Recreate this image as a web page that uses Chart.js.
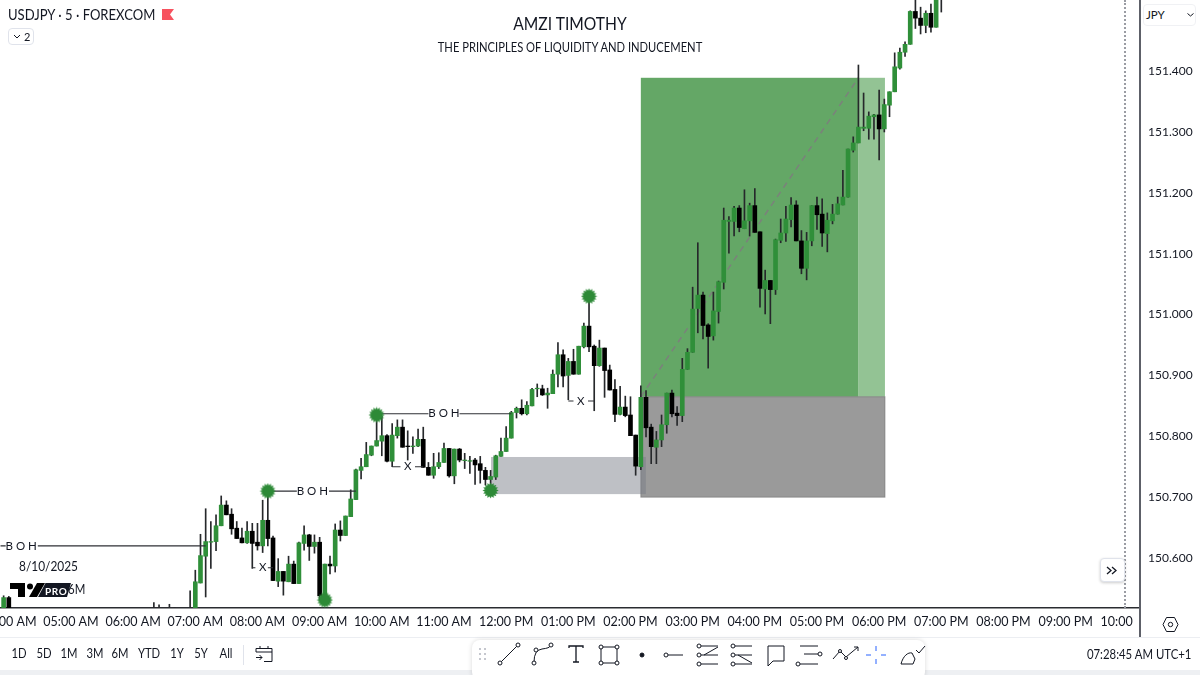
<!DOCTYPE html>
<html lang="en">
<head>
<meta charset="UTF-8">
<title>USDJPY 5 FOREXCOM</title>
<script src="https://cdn.jsdelivr.net/npm/chart.js"></script>
<style>
    html, body { margin: 0; padding: 0; background: #fff; }
    body { width: 1200px; height: 675px; position: relative; overflow: hidden; font-family: Lato, sans-serif; color: #131722; }
    canvas { position: absolute; left: 0; top: 0; }
    .t { position: absolute; white-space: nowrap; line-height: 1; }
    .btn { position: absolute; box-sizing: border-box; background: #fff; border: 1px solid #e0e3eb; border-radius: 4px; }
    #panel { position: absolute; left: 472px; top: 640px; width: 453px; height: 40px; background: #fff; border-radius: 8px; box-shadow: 0 0 5px rgba(0,0,0,.15); }
    svg { position: absolute; overflow: visible; }
</style>
</head>
<body>
<canvas id="chart" width="1200" height="675"></canvas>

<div style="position:absolute;left:1139px;top:0;width:2px;height:638px;background:#5d6068"></div>
<div style="position:absolute;left:1124px;top:0;height:608px;border-left:2px dotted #9a9ca3"></div>
<div style="position:absolute;left:0;top:637px;width:1200px;height:1px;background:#eceef2"></div>
<div style="position:absolute;left:0;top:670px;width:1200px;height:5px;background:#eef0f3"></div>

<div class="t" style="left:8px;top:7px;font-size:15px;transform:scaleX(.87);transform-origin:left">USDJPY · 5 · FOREXCOM</div>
<svg style="left:162px;top:9px" width="12" height="11"><path d="M0 0H12L8 5.500L12 11H0Z" fill="#f7525f"/></svg>
<div class="btn" style="left:8px;top:28px;width:26px;height:17px"></div>
<svg style="left:13px;top:34px" width="8" height="5"><path d="M1 1L4 4L7 1" fill="none" stroke="#131722"/></svg>
<div class="t" style="left:24px;top:31px;font-size:11px">2</div>

<div class="t" style="left:470px;width:200px;top:15px;text-align:center;font-size:17px;transform:scaleX(.92)">AMZI TIMOTHY</div>
<div class="t" style="left:370px;width:400px;top:42px;text-align:center;font-size:12.500px;transform:scaleX(.895)">THE PRINCIPLES OF LIQUIDITY AND INDUCEMENT</div>

<div class="btn" style="left:1143px;top:4px;width:53px;height:22px;border-color:#f0f1f4"></div>
<div class="t" style="left:1146px;top:9px;font-size:11.500px">JPY</div>
<svg style="left:1187px;top:13px" width="7" height="4"><path d="M.5 .5L3.500 3L6.500 .5" fill="none" stroke="#131722"/></svg>

<div class="btn" style="left:1100px;top:558px;width:25px;height:24px;box-shadow:0 1px 3px rgba(0,0,0,.2)"></div>
<svg style="left:1106px;top:566px" width="12" height="9"><path d="M1 1L5 4.500L1 8M6 1L10 4.500L6 8" fill="none" stroke="#131722" stroke-width="1.300"/></svg>

<div class="t" style="left:19px;top:560px;font-size:13.500px;transform:scaleX(.88);transform-origin:left">8/10/2025</div>
<div class="t" style="left:68px;top:583px;font-size:13px;transform:scaleX(.88);transform-origin:left">6M</div>
<svg style="left:10px;top:583px" width="62" height="15">
    <path d="M0 0H15V14H8V6H0Z" fill="#000"/>
    <circle cx="20" cy="3.500" r="3" fill="#000"/>
    <path d="M27 0H35L27 14H19Z" fill="#000"/>
    <path d="M28 14L35.500 0H61L57 14Z" fill="#131722"/>
    <text x="35" y="11.500" font-size="10" font-weight="700" letter-spacing=".6" fill="#fff" font-family="Lato">PRO</text>
</svg>

<svg style="left:1162px;top:616px" width="17" height="17"><path d="M4.500 1.500H12.500L16 8.500L12.500 15.500H4.500L1 8.500Z" fill="none" stroke="#131722"/><circle cx="8.500" cy="8.500" r="2.200" fill="none" stroke="#131722"/></svg>

<div id="ranges"></div>
<div style="position:absolute;left:243px;top:645px;width:1px;height:20px;background:#e0e3eb"></div>
<svg style="left:255px;top:645px" width="18" height="18" fill="none" stroke="#131722"><path d="M1 7V3.500H17V16.500H9M1 7H17M5 1V4M13 1V4M1 12.500H7M4.500 10L7 12.500L4.500 15"/></svg>

<div id="panel"></div>
<svg style="left:472px;top:640px" width="453" height="35" fill="none" stroke="#131722" stroke-width="1">
    <path d="M7 9h2M12 9h2M7 14h2M12 14h2M7 19h2M12 19h2" stroke="#b2b5be" stroke-width="1.500"/>
    <path d="M29 22L45 6"/><circle cx="28" cy="23" r="2" fill="#fff"/><circle cx="46" cy="5" r="2" fill="#fff"/>
    <path d="M62 22Q62 10 70 9T78 6"/><circle cx="62" cy="23" r="2" fill="#fff"/><circle cx="64" cy="10" r="2" fill="#fff"/><circle cx="79" cy="5" r="2" fill="#fff"/>
    <path d="M97 8V6H111V8M104 6V22M101 22H107" stroke-width="1.300"/>
    <rect x="129" y="7" width="16" height="16"/><circle cx="129" cy="7" r="2" fill="#fff"/><circle cx="145" cy="7" r="2" fill="#fff"/><circle cx="129" cy="23" r="2" fill="#fff"/><circle cx="145" cy="23" r="2" fill="#fff"/>
    <circle cx="170" cy="15" r="2" fill="#131722"/>
    <path d="M196 15H211"/><circle cx="194" cy="15" r="2" fill="#fff"/>
    <path d="M229 6H246M229 15H246M229 24H246M232 15L246 7" /><circle cx="227" cy="6" r="2" fill="#fff"/><circle cx="227" cy="15" r="2" fill="#fff"/><circle cx="227" cy="24" r="2" fill="#fff"/>
    <path d="M263 6H280M263 15H280M263 24H280M266 15L280 23"/><circle cx="261" cy="6" r="2" fill="#fff"/><circle cx="261" cy="15" r="2" fill="#fff"/><circle cx="261" cy="24" r="2" fill="#fff"/>
    <path d="M296 6H312V21H301L296 26Z"/>
    <path d="M328 6H346M332 14H346M328 24H346"/><circle cx="348" cy="14" r="2" fill="#fff"/><circle cx="326" cy="24" r="2" fill="#fff"/>
    <path d="M361 19L368 11L374 17L386 7M382 7H386V11"/><circle cx="368" cy="11" r="1.500" fill="#fff"/><circle cx="374" cy="18" r="1.500" fill="#fff"/>
    <path d="M404 6V11M404 19V24M394 15H399M409 15H414" stroke="#2962ff"/>
    <path d="M429 24C431 16 436 12 440 13L443 19L441 24Z M444 10L447 13L453 6"/>
</svg>
<div class="t" id="clock" style="right:9px;top:648px;font-size:13px;transform:scaleX(.875);transform-origin:right">07:28:45 AM UTC+1</div>

<script>
// candles, x = minutes after midnight (5 min bars)
const barMinutes = [235, 240, 380, 385, 395, 400, 415,
    420, 425, 430, 435, 440, 445, 450, 455, 460, 465, 470, 475, 480, 485, 490, 495,
    500, 505, 510, 515, 520, 525, 530, 535, 540, 545, 550, 555, 560, 565, 570, 575,
    580, 585, 590, 595, 600, 605, 610, 615, 620, 625, 630, 635, 640, 645, 650, 655,
    660, 665, 670, 675, 680, 685, 690, 695, 700, 705, 710, 715, 720, 725, 730, 735,
    740, 745, 750, 755, 760, 765, 770, 775, 780, 785, 790, 795, 800, 805, 810, 815,
    820, 825, 830, 835, 840, 845, 850, 855, 860, 865, 870, 875, 880, 885, 890, 895,
    900, 905, 910, 915, 920, 925, 930, 935, 940, 945, 950, 955, 960, 965, 970, 975,
    980, 985, 990, 995, 1000, 1005, 1010, 1015, 1020, 1025, 1030, 1035, 1040, 1045, 1050, 1055,
    1060, 1065, 1070, 1075, 1080, 1085, 1090, 1095, 1100, 1105, 1110, 1115, 1120, 1125, 1130, 1135, 1140];

const opens = [150.500, 150.535, 150.495, 150.500, 150.500, 150.500, 150.495,
    150.504, 150.559, 150.603, 150.626, 150.627, 150.653, 150.687, 150.672, 150.649, 150.633,
    150.625, 150.644, 150.626, 150.620, 150.662, 150.633, 150.562, 150.578, 150.561, 150.590,
    150.558, 150.624, 150.638, 150.619, 150.626, 150.536, 150.590, 150.587, 150.646, 150.637,
    150.668, 150.696, 150.744, 150.750, 150.769, 150.784, 150.792, 150.801, 150.759, 150.801,
    150.815, 150.784, 150.783, 150.784, 150.795, 150.749, 150.736, 150.750, 150.757, 150.780,
    150.735, 150.779, 150.760, 150.759, 150.761, 150.755, 150.744, 150.729, 150.733, 150.767,
    150.775, 150.797, 150.839, 150.846, 150.837, 150.850, 150.878, 150.878, 150.868, 150.870,
    150.902, 150.934, 150.900, 150.923, 150.902, 150.947, 150.981, 150.948, 150.916, 150.945,
    150.909, 150.877, 150.836, 150.848, 150.835, 150.802, 150.750, 150.864, 150.815, 150.782,
    150.794, 150.819, 150.871, 150.838, 150.834, 150.910, 150.938, 151.010, 151.032, 150.983,
    150.965, 151.005, 151.053, 151.153, 151.153, 151.175, 151.141, 151.154, 151.179, 151.136,
    151.042, 151.056, 151.041, 151.122, 151.134, 151.156, 151.180, 151.121, 151.076, 151.121,
    151.179, 151.165, 151.133, 151.154, 151.165, 151.180, 151.193, 151.270, 151.282, 151.306,
    151.306, 151.325, 151.328, 151.305, 151.344, 151.366, 151.405, 151.431, 151.444, 151.498,
    151.487, 151.475, 151.495, 151.472, 151.560];

const closes = [150.535, 150.490, 150.505, 150.505, 150.505, 150.505, 150.504,
    150.561, 150.604, 150.627, 150.627, 150.653, 150.687, 150.671, 150.648, 150.632, 150.625,
    150.644, 150.624, 150.620, 150.662, 150.632, 150.563, 150.578, 150.562, 150.590, 150.558,
    150.625, 150.638, 150.619, 150.626, 150.538, 150.590, 150.587, 150.646, 150.637, 150.669,
    150.697, 150.745, 150.750, 150.770, 150.784, 150.793, 150.801, 150.759, 150.802, 150.815,
    150.782, 150.783, 150.784, 150.795, 150.749, 150.736, 150.750, 150.757, 150.780, 150.735,
    150.779, 150.761, 150.761, 150.760, 150.753, 150.744, 150.729, 150.734, 150.768, 150.775,
    150.797, 150.839, 150.846, 150.837, 150.851, 150.877, 150.879, 150.868, 150.871, 150.902,
    150.934, 150.899, 150.923, 150.902, 150.948, 150.981, 150.947, 150.916, 150.945, 150.908,
    150.876, 150.836, 150.848, 150.834, 150.801, 150.751, 150.864, 150.814, 150.783, 150.794,
    150.819, 150.871, 150.837, 150.834, 150.910, 150.938, 151.009, 151.032, 150.982, 150.964,
    151.006, 151.054, 151.155, 151.155, 151.175, 151.143, 151.154, 151.179, 151.135, 151.043,
    151.056, 151.041, 151.123, 151.134, 151.157, 151.180, 151.121, 151.076, 151.121, 151.179,
    151.164, 151.134, 151.155, 151.165, 151.182, 151.193, 151.272, 151.282, 151.308, 151.308,
    151.326, 151.328, 151.305, 151.345, 151.366, 151.407, 151.431, 151.444, 151.498, 151.487,
    151.475, 151.495, 151.472, 151.533, 151.530];

const highs = [150.538, 150.537, 150.527, 150.523, 150.524, 150.519, 150.546,
    150.580, 150.639, 150.681, 150.660, 150.671, 150.702, 150.694, 150.681, 150.660, 150.649,
    150.660, 150.657, 150.657, 150.695, 150.711, 150.636, 150.599, 150.578, 150.603, 150.595,
    150.626, 150.653, 150.639, 150.638, 150.634, 150.590, 150.603, 150.656, 150.661, 150.669,
    150.712, 150.746, 150.764, 150.790, 150.784, 150.833, 150.833, 150.803, 150.821, 150.827,
    150.827, 150.809, 150.799, 150.812, 150.815, 150.757, 150.772, 150.773, 150.789, 150.780,
    150.779, 150.780, 150.772, 150.767, 150.764, 150.767, 150.749, 150.744, 150.769, 150.797,
    150.816, 150.841, 150.848, 150.860, 150.857, 150.879, 150.886, 150.884, 150.879, 150.909,
    150.954, 150.942, 150.928, 150.943, 150.948, 150.986, 151.030, 150.950, 150.958, 150.945,
    150.917, 150.893, 150.882, 150.866, 150.865, 150.802, 150.883, 150.875, 150.820, 150.808,
    150.835, 150.871, 150.876, 150.849, 150.928, 150.944, 151.045, 151.118, 151.037, 150.985,
    151.037, 151.055, 151.175, 151.161, 151.178, 151.179, 151.205, 151.183, 151.207, 151.136,
    151.073, 151.056, 151.124, 151.157, 151.178, 151.192, 151.187, 151.138, 151.135, 151.179,
    151.193, 151.190, 151.167, 151.181, 151.193, 151.237, 151.272, 151.292, 151.410, 151.364,
    151.333, 151.329, 151.369, 151.354, 151.366, 151.430, 151.438, 151.448, 151.499, 151.525,
    151.505, 151.499, 151.510, 151.540, 151.570];

const lows = [150.490, 150.480, 150.490, 150.490, 150.490, 150.490, 150.490,
    150.498, 150.559, 150.536, 150.583, 150.612, 150.653, 150.671, 150.639, 150.632, 150.625,
    150.624, 150.583, 150.613, 150.609, 150.620, 150.563, 150.553, 150.539, 150.561, 150.558,
    150.558, 150.613, 150.596, 150.608, 150.531, 150.528, 150.574, 150.577, 150.628, 150.637,
    150.668, 150.696, 150.730, 150.750, 150.768, 150.784, 150.768, 150.758, 150.750, 150.797,
    150.782, 150.761, 150.772, 150.783, 150.749, 150.736, 150.731, 150.747, 150.757, 150.733,
    150.722, 150.758, 150.747, 150.739, 150.721, 150.723, 150.720, 150.709, 150.729, 150.767,
    150.775, 150.797, 150.830, 150.835, 150.835, 150.850, 150.865, 150.867, 150.846, 150.870,
    150.881, 150.881, 150.860, 150.902, 150.902, 150.945, 150.939, 150.842, 150.915, 150.864,
    150.876, 150.824, 150.835, 150.832, 150.801, 150.736, 150.745, 150.799, 150.755, 150.755,
    150.783, 150.805, 150.832, 150.818, 150.824, 150.910, 150.938, 150.970, 150.960, 150.912,
    150.958, 150.986, 151.042, 151.101, 151.129, 151.136, 151.141, 151.129, 151.135, 151.012,
    151.001, 150.985, 151.033, 151.118, 151.120, 151.144, 151.121, 151.067, 151.057, 151.113,
    151.140, 151.112, 151.103, 151.149, 151.165, 151.180, 151.193, 151.267, 151.282, 151.302,
    151.288, 151.288, 151.254, 151.300, 151.325, 151.366, 151.403, 151.424, 151.444, 151.470,
    151.461, 151.463, 151.464, 151.472, 151.497];

const hourTicks = [240, 300, 360, 420, 480, 540, 600, 660, 720, 780, 840, 900, 960, 1020, 1080, 1140, 1200, 1260, 1320];
const hourLabels = ['04:00 AM', '05:00 AM', '06:00 AM', '07:00 AM', '08:00 AM', '09:00 AM', '10:00 AM', '11:00 AM', '12:00 PM',
    '01:00 PM', '02:00 PM', '03:00 PM', '04:00 PM', '05:00 PM', '06:00 PM', '07:00 PM', '08:00 PM', '09:00 PM', '10:00 PM'];
const priceTicks = [150.6, 150.7, 150.8, 150.9, 151.0, 151.1, 151.2, 151.3, 151.4];

// drawings on the chart: [from minute, to minute, price low, price high]
const targetBox = [850, 1060, 150.865, 151.389];
const targetBoxLight = [1060, 1085.6, 150.865, 151.389];
const stopBox = [850, 1085.6, 150.700, 150.865];
const demandZone = [705.4, 854.9, 150.705, 150.766];

// [from minute, to minute, price]
const bohSegments = [[232, 237, 150.620], [268, 430, 150.620], [490, 518, 150.710], [549, 575, 150.710], [595, 645, 150.837], [675, 725, 150.837]];
const xSegments = [[475, 478, 150.584], [490, 495, 150.584], [610, 618, 150.750], [632, 640, 150.750], [780, 785, 150.858], [799, 805, 150.858]];
const bohLabels = [[252, 150.620], [533, 150.710], [660, 150.837]];
const xLabels = [[485, 150.584], [625, 150.750], [792, 150.858]];
const swingMinutes = [490, 545, 595, 705, 800];
const swingPrices = [150.710, 150.531, 150.835, 150.711, 151.030];
const tradeLineMinutes = [850, 1060];
const tradeLinePrices = [150.865, 151.389];

const GREEN = '#2f8f39';

// range buttons in the bottom bar
const rangeNames = ['1D', '5D', '1M', '3M', '6M', 'YTD', '1Y', '5Y', 'All'];
const rangeCentres = [19, 44, 69, 95, 120, 149, 177, 201, 226];
rangeNames.forEach((name, i) => {
    const el = document.createElement('div');
    el.className = 't';
    el.textContent = name;
    el.style.cssText = `left:${rangeCentres[i] - 20}px;width:40px;text-align:center;top:648px;font-size:12.500px;transform:scaleX(.9)`;
    document.getElementById('ranges').appendChild(el);
});

// saw edged dot used for the swing points
function makeBurst() {
    const c = document.createElement('canvas');
    c.width = c.height = 17;
    const g = c.getContext('2d');
    g.fillStyle = '#2d8a37';
    g.beginPath();
    for (let i = 0; i < 32; i++) {
        const r = i % 2 ? 5.800 : 8;
        const a = i * Math.PI / 16;
        g.lineTo(8.500 + r * Math.cos(a), 8.500 + r * Math.sin(a));
    }
    g.closePath();
    g.fill();
    return c;
}

const boxes = {
    id: 'boxes',
    beforeDatasetsDraw(chart) {
        const { ctx, scales: { x, y } } = chart;
        const rect = (b, fill, line) => {
            const l = x.getPixelForValue(b[0]), r = x.getPixelForValue(b[1]);
            const t = y.getPixelForValue(b[3]), h = y.getPixelForValue(b[2]) - t;
            ctx.fillStyle = fill;
            ctx.fillRect(l, t, r - l, h);
            if (line) {
                ctx.strokeStyle = line;
                ctx.strokeRect(l, t, r - l, h);
            }
        };
        rect(targetBoxLight, '#93c394');
        rect(targetBox, '#64a766');
        rect(stopBox, '#9a9a9a', 'rgba(110,110,110,.6)');
        rect(demandZone, 'rgba(120,123,134,.48)');
    }
};

const notes = {
    id: 'notes',
    afterDatasetsDraw(chart) {
        const { ctx, scales: { x, y } } = chart;
        ctx.save();
        ctx.fillStyle = '#131722';
        ctx.textAlign = 'center';
        ctx.textBaseline = 'middle';
        ctx.font = '11.5px Lato';
        bohLabels.forEach(l => ctx.fillText('B O H', x.getPixelForValue(l[0]), y.getPixelForValue(l[1])));
        xLabels.forEach(l => ctx.fillText('X', x.getPixelForValue(l[0]), y.getPixelForValue(l[1])));
        ctx.restore();
    },
    afterDraw(chart) {
        // time labels stop at the price scale
        chart.ctx.fillStyle = '#fff';
        chart.ctx.fillRect(1136, 609, 64, 28);
    }
};

function segmentData(segs) {
    const pts = [];
    segs.forEach(s => pts.push({ x: s[0], y: s[2] }, { x: s[1], y: s[2] }, { x: s[1], y: null }));
    return pts;
}

// no room reserved for the labels at the axis ends, they run off like in the screenshot
function noEndPadding(scale) {
    scale.paddingLeft = scale.paddingRight = scale.paddingTop = scale.paddingBottom = 0;
    scale._margins = { left: 0, right: 0, top: 0, bottom: 0 };
}

const ctx = document.getElementById('chart').getContext('2d');
new Chart(ctx, {
    data: {
        datasets: [
            {
                type: 'scatter',
                data: swingMinutes.map((m, i) => ({ x: m, y: swingPrices[i] })),
                pointStyle: makeBurst(),
                pointRadius: 8,
                order: 0
            },
            {
                type: 'line',
                data: segmentData(bohSegments.concat(xSegments)),
                borderColor: '#2f3136',
                borderWidth: 1.200,
                pointRadius: 0,
                order: 1
            },
            {
                type: 'bar',
                data: barMinutes.map((m, i) => ({ x: m, y: [opens[i], closes[i]] })),
                backgroundColor: barMinutes.map((m, i) => closes[i] >= opens[i] ? GREEN : '#000'),
                barThickness: 4,
                grouped: false,
                order: 2
            },
            {
                type: 'bar',
                data: barMinutes.map((m, i) => ({ x: m, y: [lows[i], highs[i]] })),
                backgroundColor: '#26282b',
                barThickness: 1,
                grouped: false,
                order: 3
            },
            {
                type: 'line',
                data: tradeLineMinutes.map((m, i) => ({ x: m, y: tradeLinePrices[i] })),
                borderColor: 'rgba(125,125,125,.9)',
                borderWidth: 1.500,
                borderDash: [6, 5],
                pointRadius: 0,
                order: 4
            }
        ]
    },
    options: {
        responsive: false,
        animation: false,
        events: [],
        layout: { autoPadding: false, padding: { left: 0, right: 0, top: 0, bottom: 35 } },
        plugins: { legend: { display: false }, tooltip: { enabled: false } },
        scales: {
            x: {
                type: 'linear',
                offset: false,
                min: 231.5,
                max: 1330.8,
                grid: { display: false, offset: false, drawTicks: false },
                border: { display: true, color: '#2a2c31', width: 1.500 },
                afterFit: scale => { noEndPadding(scale); scale.height = 32; },
                afterBuildTicks: scale => { scale.ticks = hourTicks.map(v => ({ value: v })); },
                ticks: {
                    autoSkip: false,
                    maxRotation: 0,
                    minRotation: 0,
                    padding: 6,
                    color: '#131722',
                    font: { family: 'Lato', size: 12.500 },
                    callback: value => hourLabels[hourTicks.indexOf(value)]
                }
            },
            y: {
                type: 'linear',
                position: 'right',
                min: 150.5179,
                max: 151.5168,
                grid: { display: false, drawTicks: false },
                border: { display: false },
                afterFit: scale => { noEndPadding(scale); scale.width = 61; },
                afterBuildTicks: scale => { scale.ticks = priceTicks.map(v => ({ value: v })); },
                ticks: {
                    padding: 9,
                    color: '#131722',
                    font: { family: 'Lato', size: 12 },
                    callback: value => value.toFixed(3)
                }
            }
        }
    },
    plugins: [boxes, notes]
});
</script>
</body>
</html>
